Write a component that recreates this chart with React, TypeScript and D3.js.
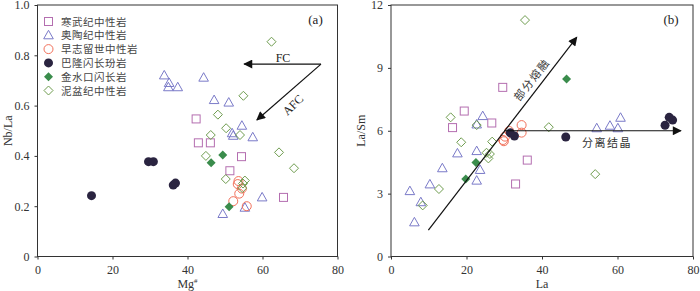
import * as d3 from "d3";
import { useEffect, useRef } from "react";

// panel (a): Mg# vs Nb/La
const camA = [[42.3, 0.547], [42.9, 0.452], [46.1, 0.452], [54.4, 0.397], [51.3, 0.341], [65.6, 0.235]];
const ordA = [[33.8, 0.72], [35.1, 0.69], [34.9, 0.673], [37.4, 0.673], [44.3, 0.711], [47.1, 0.622], [51.0, 0.612], [54.5, 0.52], [51.9, 0.49], [52.2, 0.48], [57.4, 0.474], [59.9, 0.235], [55.3, 0.194], [49.4, 0.169]];
const silA = [[53.6, 0.30], [54.5, 0.27], [53.8, 0.25], [52.2, 0.22], [55.8, 0.20], [53.4, 0.288]];
const balA = [[14.4, 0.242], [29.6, 0.377], [30.9, 0.377], [36.2, 0.284], [36.8, 0.292]];
const jinA = [[49.4, 0.404], [46.3, 0.373], [51.1, 0.198]];
const devA = [[62.4, 0.854], [54.9, 0.639], [48.1, 0.564], [50.3, 0.51], [54.0, 0.483], [46.2, 0.483], [44.9, 0.40], [64.4, 0.414], [68.4, 0.351], [50.2, 0.308], [55.3, 0.302], [54.8, 0.29], [54.6, 0.272]];

// panel (b): La vs La/Sm
const camB = [[29.6, 8.07], [19.4, 6.94], [16.3, 6.15], [26.7, 6.37], [36.1, 4.6], [33.0, 3.46]];
const ordB = [[24.3, 6.70], [22.7, 6.3], [54.5, 6.12], [58.0, 6.24], [60.1, 6.12], [60.8, 6.62], [17.6, 4.92], [22.7, 5.03], [23.6, 4.13], [13.6, 4.21], [10.3, 3.44], [5.0, 3.12], [7.9, 2.59], [6.2, 1.63], [22.7, 3.62]];
const silB = [[34.6, 6.27], [34.6, 5.91], [31.3, 5.99], [30.2, 5.72], [29.7, 5.56], [29.9, 5.5]];
const balB = [[72.6, 6.26], [73.7, 6.64], [74.6, 6.51], [46.3, 5.70], [32.7, 5.75], [31.6, 5.9]];
const jinB = [[46.5, 8.47], [22.5, 4.48], [19.8, 3.70]];
const devB = [[35.5, 11.28], [15.8, 6.64], [22.7, 6.27], [41.8, 6.17], [18.6, 5.45], [26.8, 5.48], [25.3, 4.95], [26.2, 4.89], [25.8, 4.68], [54.1, 3.93], [12.7, 3.22], [8.4, 2.44]];

// trend arrows
const fcArrow = [[75.6, 0.765], [55.1, 0.765]];
const afcArrow = [[75.6, 0.765], [58.5, 0.543]];
const meltArrow = [[9.9, 1.26], [49.2, 10.46]];
const fracArrow = [[30.1, 6.0], [76.8, 6.0]];

const legendNames = ["寒武纪中性岩", "奥陶纪中性岩", "早志留世中性岩", "巴隆闪长玢岩", "金水口闪长岩", "泥盆纪中性岩"];
const kinds = ["square", "triangle", "circle", "dot", "fdiamond", "diamond"];
const colors = ["#b46eb0", "#7a7ac8", "#f2705a", "#2a2440", "#3a8c4c", "#6e9c4e"];

const ticksA = [0, 0.2, 0.4, 0.6, 0.8, 1.0];
const ticksB = [0, 3, 6, 9, 12];
const ticksX = [0, 20, 40, 60, 80];

const serif = "'Liberation Serif', 'DejaVu Serif', serif";
const cjk = "'Noto Sans CJK SC', sans-serif";

const drawMarker = (g, kind, color, x, y) => {
    if (kind === "square") {
        g.append("rect").attr("x", x - 4).attr("y", y - 4).attr("width", 8).attr("height", 8)
            .attr("fill", "none").attr("stroke", color).attr("stroke-width", 1);
    } else if (kind === "triangle") {
        g.append("path").attr("d", `M${x},${y - 5}L${x + 4.8},${y + 3.5}L${x - 4.8},${y + 3.5}Z`)
            .attr("fill", "none").attr("stroke", color).attr("stroke-width", 1);
    } else if (kind === "circle") {
        g.append("circle").attr("cx", x).attr("cy", y).attr("r", 4.5)
            .attr("fill", "none").attr("stroke", color).attr("stroke-width", 1);
    } else if (kind === "dot") {
        g.append("circle").attr("cx", x).attr("cy", y).attr("r", 4.5).attr("fill", color);
    } else if (kind === "fdiamond") {
        g.append("path").attr("d", `M${x},${y - 4.5}L${x + 4.5},${y}L${x},${y + 4.5}L${x - 4.5},${y}Z`)
            .attr("fill", color);
    } else {
        g.append("path").attr("d", `M${x},${y - 4.5}L${x + 4.5},${y}L${x},${y + 4.5}L${x - 4.5},${y}Z`)
            .attr("fill", "none").attr("stroke", color).attr("stroke-width", 1);
    }
};

const App = () => {
    const ref = useRef(null);

    useEffect(() => {
        const svg = d3.select(ref.current);
        svg.selectAll("*").remove();

        svg.append("defs").append("marker")
            .attr("id", "arrow")
            .attr("viewBox", "0 0 10 10")
            .attr("refX", 9).attr("refY", 5)
            .attr("markerWidth", 11).attr("markerHeight", 9)
            .attr("markerUnits", "userSpaceOnUse")
            .attr("orient", "auto")
            .append("path").attr("d", "M0,0L10,5L0,10Z").attr("fill", "#111");

        const panel = (x, y, yTicks, yFmt, xLabel, yLabel, tag, series) => {
            const g = svg.append("g");
            const [x0, x1] = x.range();
            const [y0, y1] = y.range();

            g.append("g").attr("transform", `translate(0,${y0})`)
                .call(d3.axisBottom(x).tickValues(ticksX).tickSize(3).tickPadding(6).tickSizeOuter(0))
                .call((a) => a.select(".domain").remove());
            g.append("g").attr("transform", `translate(${x0},0)`)
                .call(d3.axisLeft(y).tickValues(yTicks).tickFormat(yFmt).tickSize(3).tickPadding(5).tickSizeOuter(0))
                .call((a) => a.select(".domain").remove());
            g.selectAll(".tick text").attr("font-family", serif).attr("font-size", 12).attr("fill", "#333");
            g.selectAll(".tick line").attr("stroke", "#333");

            g.append("rect").attr("x", x0).attr("y", y1).attr("width", x1 - x0).attr("height", y0 - y1)
                .attr("fill", "none").attr("stroke", "#333").attr("stroke-width", 1);

            g.append("text").attr("x", x1 - 22).attr("y", y1 + 19).attr("text-anchor", "middle")
                .attr("font-family", serif).attr("font-size", 13).attr("fill", "#222").text(tag);

            const xl = g.append("text").attr("x", (x0 + x1) / 2).attr("y", 288).attr("text-anchor", "middle")
                .attr("font-family", serif).attr("font-size", 12).attr("fill", "#333");
            xl.append("tspan").text(xLabel[0]);
            if (xLabel[1]) xl.append("tspan").attr("dy", -5).attr("font-size", 7).text(xLabel[1]);

            g.append("text").attr("transform", `translate(${x0 - 26},${(y0 + y1) / 2}) rotate(-90)`)
                .attr("text-anchor", "middle").attr("font-family", serif).attr("font-size", 12)
                .attr("fill", "#333").text(yLabel);

            series.forEach((pts, i) => {
                pts.forEach((d) => drawMarker(g, kinds[i], colors[i], x(d[0]), y(d[1])));
            });
            return g;
        };

        const xA = d3.scaleLinear().domain([0, 80]).range([37.5, 337.5]);
        const yA = d3.scaleLinear().domain([0, 1]).range([256.5, 5]);
        const xB = d3.scaleLinear().domain([0, 80]).range([391, 693]);
        const yB = d3.scaleLinear().domain([0, 12]).range([256.5, 5]);

        const gA = panel(xA, yA, ticksA, (d) => (d === 0 ? "0" : d3.format(".1f")(d)), ["Mg", "#"], "Nb/La", "(a)",
            [camA, ordA, silA, balA, jinA, devA]);
        const gB = panel(xB, yB, ticksB, (d) => d, ["La"], "La/Sm", "(b)",
            [camB, ordB, silB, balB, jinB, devB]);

        const arrow = (g, xs, ys, pts) => {
            g.append("line")
                .attr("x1", xs(pts[0][0])).attr("y1", ys(pts[0][1]))
                .attr("x2", xs(pts[1][0])).attr("y2", ys(pts[1][1]))
                .attr("stroke", "#111").attr("stroke-width", 1.2)
                .attr("marker-end", "url(#arrow)");
        };
        arrow(gA, xA, yA, fcArrow);
        arrow(gA, xA, yA, afcArrow);
        arrow(gB, xB, yB, meltArrow);
        arrow(gB, xB, yB, fracArrow);

        gA.append("text").attr("x", 283).attr("y", 62).attr("text-anchor", "middle")
            .attr("font-family", serif).attr("font-size", 12).attr("fill", "#222").text("FC");
        gA.append("text").attr("transform", "translate(293,105) rotate(-45)").attr("text-anchor", "middle")
            .attr("dominant-baseline", "central")
            .attr("font-family", serif).attr("font-size", 12).attr("fill", "#222").text("AFC");

        gB.append("text").attr("transform", "translate(531,79) rotate(-52)").attr("text-anchor", "middle")
            .attr("dominant-baseline", "central").attr("letter-spacing", 1.5)
            .attr("font-family", cjk).attr("font-size", 11).attr("fill", "#333").text("部分熔融");
        gB.append("text").attr("x", 607).attr("y", 147).attr("text-anchor", "middle").attr("letter-spacing", 1.5)
            .attr("font-family", cjk).attr("font-size", 11).attr("fill", "#333").text("分离结晶");

        // legend
        const lg = gA.append("g");
        legendNames.forEach((name, i) => {
            const ly = 21.5 + i * 13.8;
            drawMarker(lg, kinds[i], colors[i], 48.5, ly);
            lg.append("text").attr("x", 61).attr("y", ly + 4).attr("letter-spacing", 0.5)
                .attr("font-family", cjk).attr("font-size", 10.5).attr("fill", "#444").text(name);
        });
    }, []);

    return (
        <svg ref={ref} width={700} height={291}
            style={{ position: "absolute", left: 0, top: 0, background: "#fff" }} />
    );
};

export default App;
